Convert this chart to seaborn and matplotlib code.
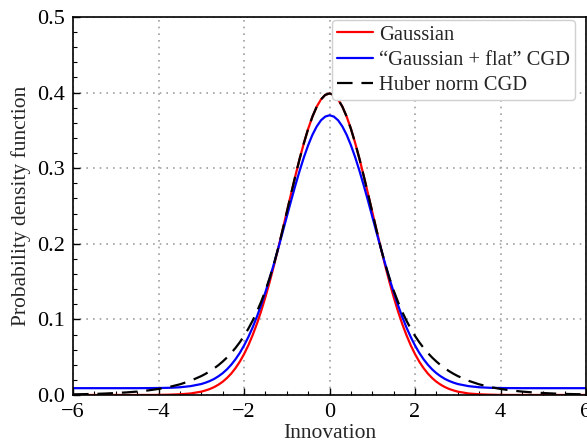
import numpy as np
import pandas as pd
import matplotlib
matplotlib.use("Agg")
import matplotlib.pyplot as plt
import seaborn as sns
from matplotlib.ticker import MultipleLocator, FormatStrFormatter

# sample points on the positive half of the innovation axis (curves are symmetric)
x_half = [0.0, 0.1, 0.2, 0.3, 0.4, 0.5, 0.6, 0.7, 0.8, 0.9, 1.0,
          1.1, 1.2, 1.3, 1.4, 1.5, 1.6, 1.7, 1.8, 1.9, 2.0,
          2.1, 2.2, 2.3, 2.4, 2.5, 2.6, 2.7, 2.8, 2.9, 3.0,
          3.25, 3.5, 3.75, 4.0, 4.25, 4.5, 4.75, 5.0, 5.25, 5.5, 5.75, 6.0]

gauss_half = [0.3989, 0.3970, 0.3910, 0.3814, 0.3683, 0.3521, 0.3332, 0.3123, 0.2897, 0.2661, 0.2420,
              0.2179, 0.1942, 0.1714, 0.1497, 0.1295, 0.1109, 0.0940, 0.0790, 0.0656, 0.0540,
              0.0440, 0.0355, 0.0283, 0.0224, 0.0175, 0.0136, 0.0104, 0.0079, 0.0060, 0.0044,
              0.0020, 0.0009, 0.0004, 0.0001, 0.0, 0.0, 0.0, 0.0, 0.0, 0.0, 0.0, 0.0]
flat_half = [0.3700, 0.3683, 0.3634, 0.3552, 0.3442, 0.3304, 0.3144, 0.2965, 0.2772, 0.2569, 0.2359,
             0.2148, 0.1940, 0.1737, 0.1543, 0.1360, 0.1190, 0.1034, 0.0892, 0.0766, 0.0654,
             0.0556, 0.0472, 0.0400, 0.0339, 0.0288, 0.0247, 0.0212, 0.0185, 0.0163, 0.0145,
             0.0117, 0.0102, 0.0095, 0.0092, 0.0091, 0.0090, 0.0090, 0.0090, 0.0090, 0.0090, 0.0090, 0.0090]
huber_half = [0.3989, 0.3970, 0.3910, 0.3814, 0.3683, 0.3521, 0.3332, 0.3123, 0.2897, 0.2661, 0.2420,
              0.2179, 0.1945, 0.1736, 0.1549, 0.1382, 0.1233, 0.1100, 0.0982, 0.0876, 0.0781,
              0.0697, 0.0622, 0.0555, 0.0495, 0.0442, 0.0394, 0.0352, 0.0314, 0.0280, 0.0250,
              0.0188, 0.0141, 0.0106, 0.0080, 0.0060, 0.0045, 0.0034, 0.0026, 0.0019, 0.0014, 0.0011, 0.0008]

innovation = [-v for v in x_half[:0:-1]] + x_half
gaussian = gauss_half[:0:-1] + gauss_half
gauss_flat = flat_half[:0:-1] + flat_half
huber = huber_half[:0:-1] + huber_half

sns.set_style("ticks")
plt.rcParams["font.family"] = ["Liberation Serif", "DejaVu Serif"]

fig = plt.figure(figsize=(5.87, 4.43), dpi=100)
ax = fig.add_axes([0.1244, 0.1084, 0.8740, 0.8532])

sns.lineplot(x=innovation, y=gaussian, color="#ff0000", lw=1.6,
             label="Gaussian", ax=ax)
sns.lineplot(x=innovation, y=gauss_flat, color="#0000ff", lw=1.6,
             label="\u201cGaussian + flat\u201d CGD", ax=ax)
sns.lineplot(x=innovation, y=huber, color="black", lw=1.6,
             linestyle=(0, (7, 4)), label="Huber norm CGD", ax=ax)

ax.set_xlim(-6, 6)
ax.set_ylim(0, 0.5)
ax.xaxis.set_major_locator(MultipleLocator(2))
ax.xaxis.set_minor_locator(MultipleLocator(0.5))
ax.yaxis.set_major_locator(MultipleLocator(0.1))
ax.yaxis.set_minor_locator(MultipleLocator(0.02))
ax.yaxis.set_major_formatter(FormatStrFormatter("%.1f"))
ax.tick_params(which="both", direction="in", labelsize=16, colors="black", pad=6)
ax.tick_params(which="major", length=5, width=1)
ax.tick_params(which="minor", length=3, width=0.8)
ax.grid(True, which="major", color="#a0a0a0", linestyle=(0, (1, 3)), lw=1.2)

for sp in ax.spines.values():
    sp.set_color("black")
    sp.set_linewidth(1.2)

ax.set_xlabel("Innovation", fontsize=15.5, labelpad=1)
ax.set_ylabel("Probability density function", fontsize=15.5, labelpad=4)

leg = ax.legend(loc="upper right", bbox_to_anchor=(0.9786, 0.992), borderaxespad=0,
                fontsize=14.8, handlelength=1.75, frameon=True, fancybox=True,
                framealpha=1, borderpad=0.25, labelspacing=0.28, handletextpad=0.3)
leg.get_frame().set_edgecolor("#d0d0d0")

fig.savefig("out.png", dpi=100)
